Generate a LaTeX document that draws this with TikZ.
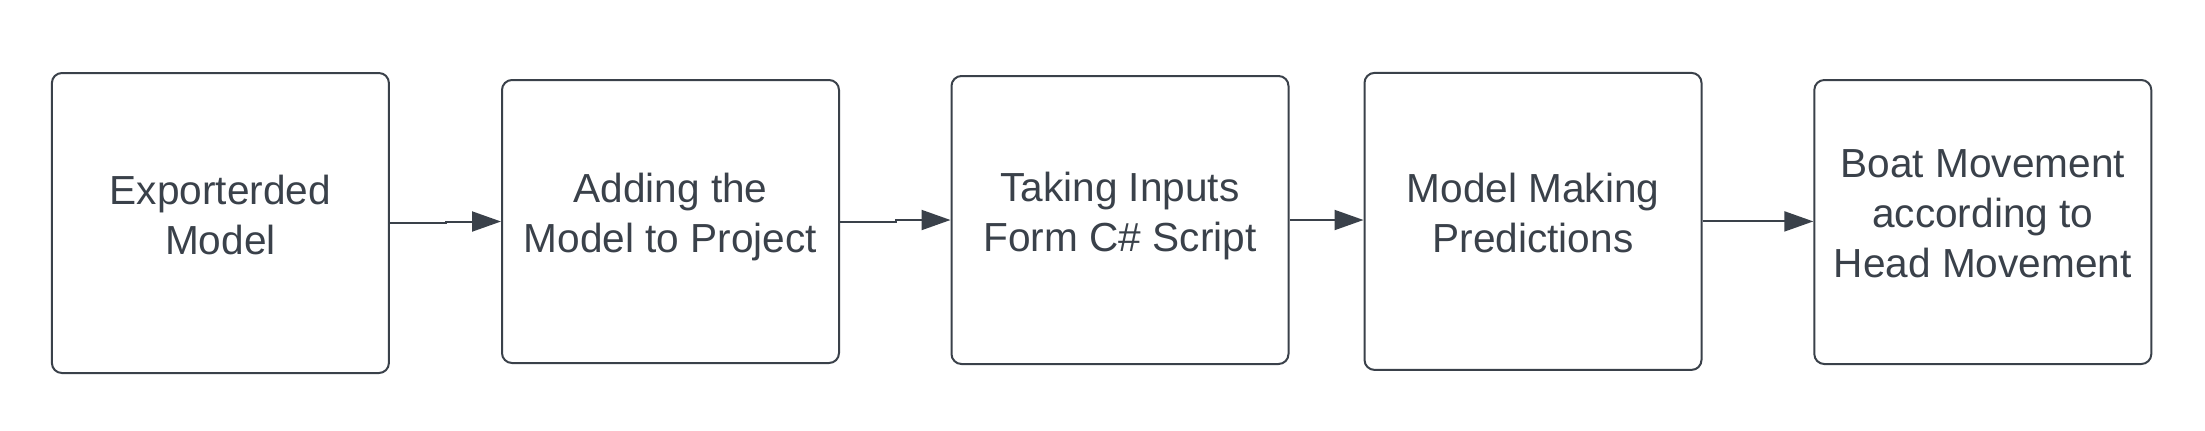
\documentclass[tikz,border=0pt]{standalone}
\usepackage{fontspec}
\setmainfont{Liberation Sans}
\usetikzlibrary{arrows.meta}
\definecolor{trait}{RGB}{58,65,74}

\begin{document}
\begin{tikzpicture}[x=0.5pt, y=-0.5pt,
    boite/.style={draw=trait, line width=1pt, rounded corners=5pt, minimum width=168.5pt,
      align=center, text=trait, font=\fontsize{20.3pt}{25pt}\selectfont,
      execute at begin node=\rule{0pt}{16.5pt},
      execute at end node=\rule[-8.5pt]{0pt}{8.5pt}},
    fleche/.style={draw=trait, line width=1pt, -{Triangle[length=14.5pt, width=10pt]}}]
    \useasboundingbox (0, 0) rectangle (2205, 430);

    % les etapes
    \node[boite, minimum height=150pt] (modele) at (220.4, 223) {Exporterded\\Model};
    \node[boite, minimum height=141.5pt] (ajout) at (670.5, 221.5) {Adding the\\Model to Project};
    \node[boite, minimum height=144pt] (entrees) at (1120, 220) {Taking Inputs\\Form C\# Script};
    \node[boite, minimum height=148.5pt] (prediction) at (1533, 221.4) {Model Making\\Predictions};
    \node[boite, minimum height=142pt] (bateau) at (1982.8, 222) {Boat Movement\\according to\\Head Movement};

    % les fleches
    \draw[fleche] (modele.east) -- ++(56, 0) |- (ajout.west);
    \draw[fleche] (ajout.east) -- ++(56, 0) |- (entrees.west);
    \draw[fleche] (entrees.east) -- (prediction.west |- entrees.east);
    \draw[fleche] (prediction.east) -- (bateau.west |- prediction.east);

\end{tikzpicture}
\end{document}
